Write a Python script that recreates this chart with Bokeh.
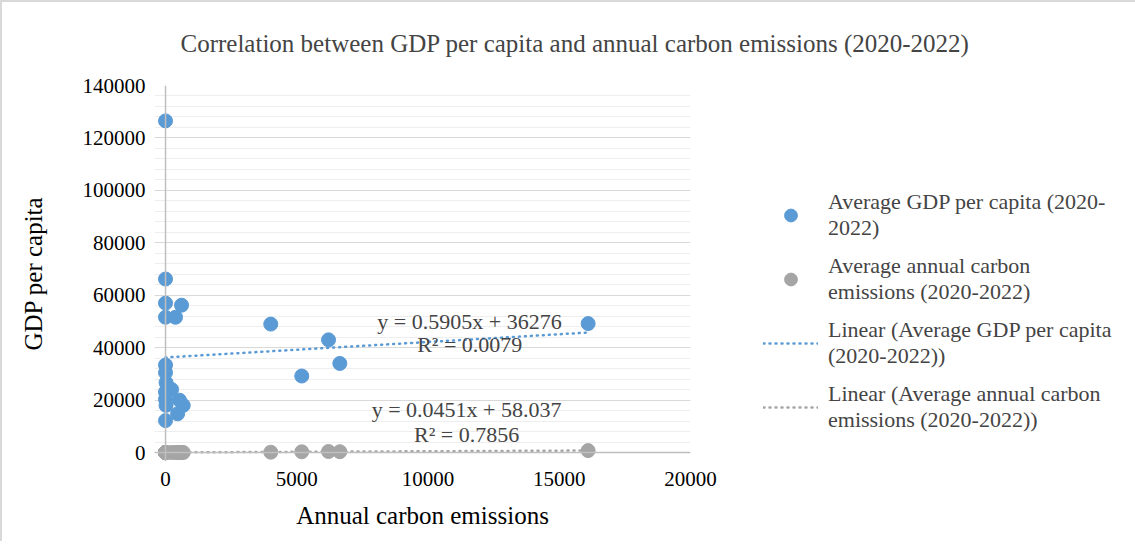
from bokeh.plotting import figure
from bokeh.models import (SingleIntervalTicker, Legend, LegendItem, Label, ColumnDataSource, Range1d, Span,
                          BasicTickFormatter)
from bokeh.embed import file_html
from bokeh.resources import INLINE

# ---- data ----
emissions_x = [0, 0, 0, 610, 0, 380, 4010, 6210, 5190, 6640, 16100, 0, 0, 20, 230, 0, 0, 530, 675, 20, 460, 0]
gdp_per_capita = [126500, 66200, 57000, 56200, 51600, 51600, 49000, 43000, 29200, 34000, 49200,
                  33400, 30500, 26700, 24100, 23100, 20300, 20000, 18000, 18000, 14800, 12200]
carbon_series = [20, 30, 40, 60, 25, 35, 150, 420, 300, 330, 760, 15, 20, 30, 25, 20, 15, 40, 45, 20, 35, 10]

trend_slope = [0.5905, 0.0451]
trend_intercept = [36276, 58.037]
trend_r2 = [0.0079, 0.7856]

x_ticks_interval = 5000
y_ticks_interval = 20000

BLUE = "#5b9bd5"
GRAY = "#a5a5a5"
FONT = "Liberation Serif"

p = figure(frame_width=536, frame_height=376, min_border_left=152, min_border_right=438,
           min_border_top=83, min_border_bottom=80,
           x_range=Range1d(-420, 20000), y_range=Range1d(-3400, 140000),
           output_backend="svg", toolbar_location=None)
p.outline_line_color = None
p.styles = {"border-top": "2px solid #d9d9d9", "border-left": "2px solid #d9d9d9"}

src = ColumnDataSource(dict(x=emissions_x, gdp=gdp_per_capita, carbon=carbon_series))

# zero axis lines
p.add_layout(Span(location=0, dimension="height", line_color="#bfbfbf", line_width=1.5))
p.add_layout(Span(location=0, dimension="width", line_color="#bfbfbf", line_width=1.5))

# trend lines
xmin, xmax = min(emissions_x), max(emissions_x)
t1 = p.line([xmin, xmax], [trend_slope[0] * xmin + trend_intercept[0], trend_slope[0] * xmax + trend_intercept[0]],
            line_color=BLUE, line_width=2.5, line_dash="1 5", line_cap="round")
t2 = p.line([xmin, xmax], [trend_slope[1] * xmin + trend_intercept[1], trend_slope[1] * xmax + trend_intercept[1]],
            line_color=GRAY, line_width=2.5, line_dash="1 5", line_cap="round")

s1 = p.scatter("x", "gdp", source=src, size=14, fill_color=BLUE, line_color=BLUE)
s2 = p.scatter("x", "carbon", source=src, size=14, fill_color=GRAY, line_color=GRAY)

# axes
for ax in (p.xaxis[0], p.yaxis[0]):
    ax.axis_line_color = None
    ax.major_tick_line_color = None
    ax.minor_tick_line_color = None
    ax.major_label_text_font = FONT
    ax.major_label_text_font_size = "21px"
    ax.major_label_text_color = "black"
    ax.axis_label_text_font = FONT
    ax.axis_label_text_font_size = "25px"
    ax.axis_label_text_font_style = "normal"
    ax.axis_label_text_color = "black"

p.xaxis.ticker = SingleIntervalTicker(interval=x_ticks_interval, num_minor_ticks=0)
p.yaxis.ticker = SingleIntervalTicker(interval=y_ticks_interval, num_minor_ticks=5)
p.yaxis.formatter = BasicTickFormatter(use_scientific=False)
p.xaxis.formatter = BasicTickFormatter(use_scientific=False)
p.xaxis.axis_label = "Annual carbon emissions"
p.yaxis.axis_label = "GDP per capita"
p.xaxis.major_label_standoff = 4
p.yaxis.major_label_standoff = 3
p.xaxis.axis_label_standoff = 13
p.yaxis.axis_label_standoff = 33
p.xaxis.bounds = (0, 20000)
p.yaxis.bounds = (0, 140000)

p.xgrid.visible = False
p.ygrid.grid_line_color = "#d9d9d9"
p.ygrid.minor_grid_line_color = "#eeeeee"
p.ygrid.bounds = (0, 140000)

# title
p.title.text = "Correlation between GDP per capita and annual carbon emissions (2020-2022)"
p.title.text_font = FONT
p.title.text_font_size = "25px"
p.title.text_font_style = "normal"
p.title.align = "left"
p.title.vertical_align = "top"
p.title.offset = 26
p.title.standoff = 54

# trend equations
eq_pos = [(11580, 50000, 11590, 41200), (11470, 16400, 11470, 6900)]
for i in range(2):
    ex, ey, rx, ry = eq_pos[i]
    p.add_layout(Label(x=ex, y=ey, text=f"y = {trend_slope[i]}x + {trend_intercept[i]}",
                       text_font=FONT, text_font_size="22px", text_align="center", text_baseline="middle"))
    p.add_layout(Label(x=rx, y=ry, text=f"R² = {trend_r2[i]}",
                       text_font=FONT, text_font_size="22px", text_align="center", text_baseline="middle"))

legend = Legend(items=[
    LegendItem(label="Average GDP per capita (2020-\n2022)", renderers=[s1]),
    LegendItem(label="Average annual carbon\nemissions (2020-2022)", renderers=[s2]),
    LegendItem(label="Linear (Average GDP per capita\n(2020-2022))", renderers=[t1]),
    LegendItem(label="Linear (Average annual carbon\nemissions (2020-2022))", renderers=[t2]),
], location=(73, 28))
legend.label_text_font = FONT
legend.label_text_font_size = "22px"
legend.label_text_line_height = 1.1
legend.glyph_width = 55
legend.glyph_height = 32
legend.label_standoff = 10
legend.spacing = 12
legend.padding = 0
legend.margin = 0
legend.border_line_color = None
legend.background_fill_alpha = 0
p.add_layout(legend, "right")

open("out.html", "w").write(file_html(p, INLINE))
